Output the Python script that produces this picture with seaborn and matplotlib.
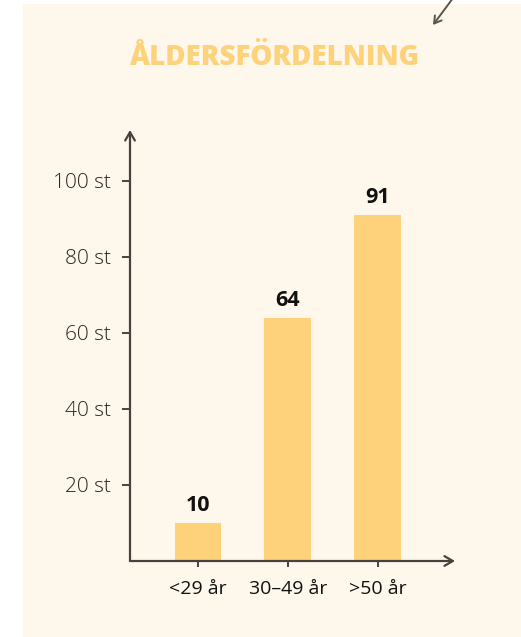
import matplotlib
matplotlib.use("Agg")
import matplotlib.pyplot as plt
import matplotlib.patches as patches
import seaborn as sns
import pandas as pd

# data
kategorier = ["<29 år", "30–49 år", ">50 år"]
antal = [10, 64, 91]
ytick_varden = [20, 40, 60, 80, 100]
ytick_texter = ["20 st", "40 st", "60 st", "80 st", "100 st"]

ds = pd.DataFrame({"kategori": kategorier, "antal": antal})

sns.set_style("white")
plt.rcParams["font.family"] = ["Open Sans", "DejaVu Sans"]

bakgrund = "#fef7ec"
gul = "#fdd27b"
axelfarg = "#47423e"

fig = plt.figure(figsize=(5.21, 6.37), dpi=100)
fig.patch.set_facecolor("white")

# cream panel behind the chart
panel = patches.Rectangle((23 / 521, 0), 1 - 23 / 521, 1 - 4 / 637,
                          transform=fig.transFigure, facecolor=bakgrund,
                          edgecolor="none", zorder=-1)
fig.patches.append(panel)

ax = fig.add_axes([130 / 521, 76 / 637, 325 / 521, 431 / 637])
ax.set_zorder(2)
ax.patch.set_alpha(0)

sns.barplot(x="kategori", y="antal", data=ds, color=gul, saturation=1,
            width=0.52, linewidth=0, ax=ax)

ax.set_xlim(-0.755, 2.86)
ax.set_ylim(0, 113.4)

for s in ax.spines.values():
    s.set_visible(False)

# axes with open arrowheads
ax.annotate("", xy=(0, 1), xytext=(0, 0), xycoords="axes fraction",
            arrowprops=dict(arrowstyle="->,head_length=0.6,head_width=0.35",
                            color=axelfarg, lw=1.6, shrinkA=0, shrinkB=0))
ax.annotate("", xy=(1, 0), xytext=(0, 0), xycoords="axes fraction",
            arrowprops=dict(arrowstyle="->,head_length=0.6,head_width=0.35",
                            color=axelfarg, lw=1.6, shrinkA=0, shrinkB=0))

ax.set_yticks(ytick_varden)
ax.set_yticklabels(ytick_texter)
ax.tick_params(axis="y", left=True, direction="out", length=6, width=1.4,
               color=axelfarg, pad=8, labelsize=15, labelcolor="#2b2622")
for t in ax.get_yticklabels():
    t.set_fontweight("light")

ax.tick_params(axis="x", bottom=True, direction="inout", length=8, width=1.4,
               color=axelfarg, pad=10, labelsize=14, labelcolor="#111111")

ax.set_xlabel("")
ax.set_ylabel("")

ax.bar_label(ax.containers[0], labels=[str(v) for v in antal], padding=5,
             fontsize=15.5, fontweight="bold", color="#111111")

fig.text(0.527, 1 - 57.5 / 637, "ÅLDERSFÖRDELNING", ha="center", va="center",
         fontsize=20, fontweight="heavy", color=gul)

# small decorative arrow in the top right corner
fig.add_artist(patches.FancyArrowPatch(
    (453 / 521, 1.003), (433 / 521, 1 - 25 / 637), transform=fig.transFigure,
    arrowstyle="->,head_length=5,head_width=3", color="#5e534b", lw=1.4,
    shrinkA=0, shrinkB=0))

plt.savefig("out.png", dpi=100, facecolor=fig.get_facecolor())
